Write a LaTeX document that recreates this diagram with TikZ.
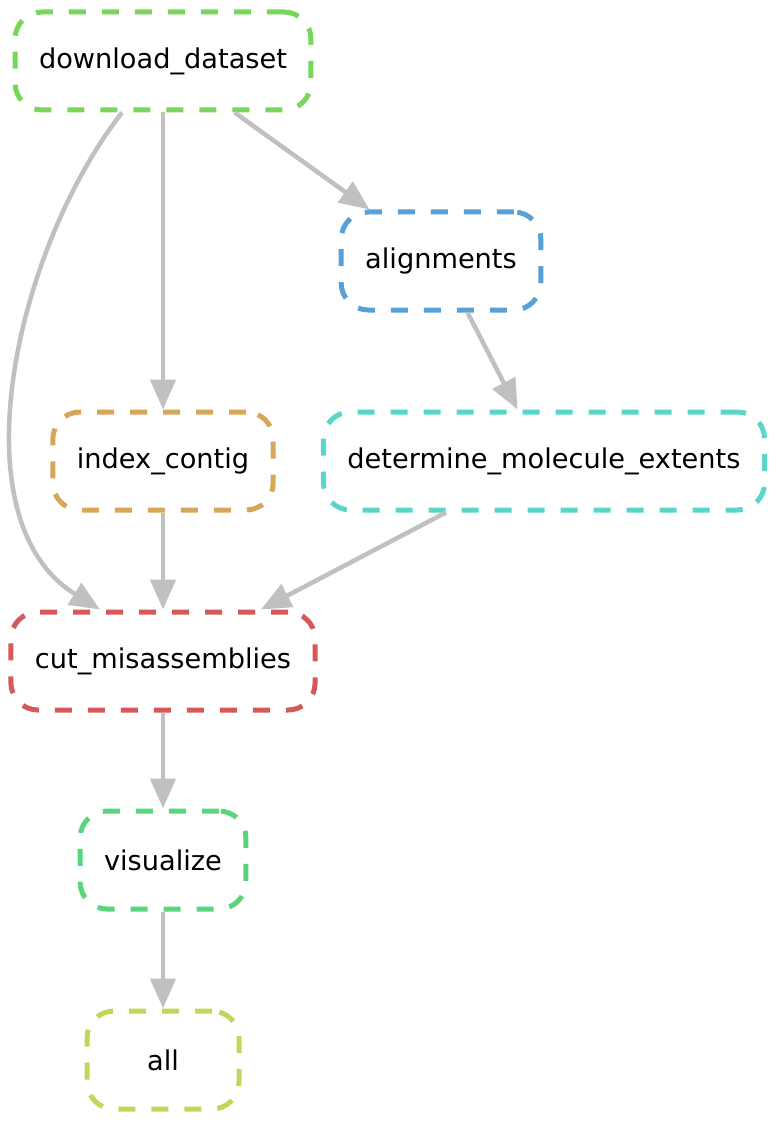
\documentclass[tikz,border=0pt]{standalone}
\usepackage{fontspec}
\setmainfont{DejaVu Sans}
\usetikzlibrary{arrows.meta}

\definecolor{cdownload}{RGB}{121,214,89}
\definecolor{calign}{RGB}{89,160,214}
\definecolor{cindex}{RGB}{214,166,89}
\definecolor{cdetermine}{RGB}{89,214,200}
\definecolor{ccut}{RGB}{214,89,89}
\definecolor{cvisual}{RGB}{89,214,124}
\definecolor{call}{RGB}{196,214,89}
\definecolor{cedge}{RGB}{192,192,192}

\tikzset{
  rulebox/.style={draw=#1, line width=5pt, dash pattern=on 17pt off 16pt,
    rounded corners=27pt, minimum width=152pt, minimum height=98pt,
    inner xsep=24pt, font=\fontsize{27.2}{32}\selectfont},
  dep/.style={draw=cedge, line width=4.5pt, -{Triangle[length=30pt,width=25pt]}}
}

\begin{document}
\begin{tikzpicture}[x=1pt,y=-1pt,line join=round]
  \useasboundingbox (0,0) rectangle (778,1123);

  % rules
  \node[rulebox=cdownload]  (dd)  at (163,61)  {download\_dataset};
  \node[rulebox=calign]     (al)  at (441,261) {alignments};
  \node[rulebox=cindex]     (ic)  at (163,461) {index\_contig};
  \node[rulebox=cdetermine] (dme) at (544,461) {determine\_molecule\_extents};
  \node[rulebox=ccut]       (cm)  at (163,661) {cut\_misassemblies};
  \node[rulebox=cvisual]    (vis) at (163,860) {visualize};
  \node[rulebox=call]       (all) at (163,1060) {all};

  % dependencies
  \draw[dep] (dd) -- (al);
  \draw[dep] (dd) -- (ic);
  \draw[dep] ([xshift=-41pt]dd.south)
    .. controls (15,250) and (-45,520) .. ([xshift=-63pt]cm.north);
  \draw[dep] (al) -- (dme);
  \draw[dep] (ic) -- (cm);
  \draw[dep] (dme) -- (cm);
  \draw[dep] (cm) -- (vis);
  \draw[dep] (vis) -- (all);
\end{tikzpicture}
\end{document}
